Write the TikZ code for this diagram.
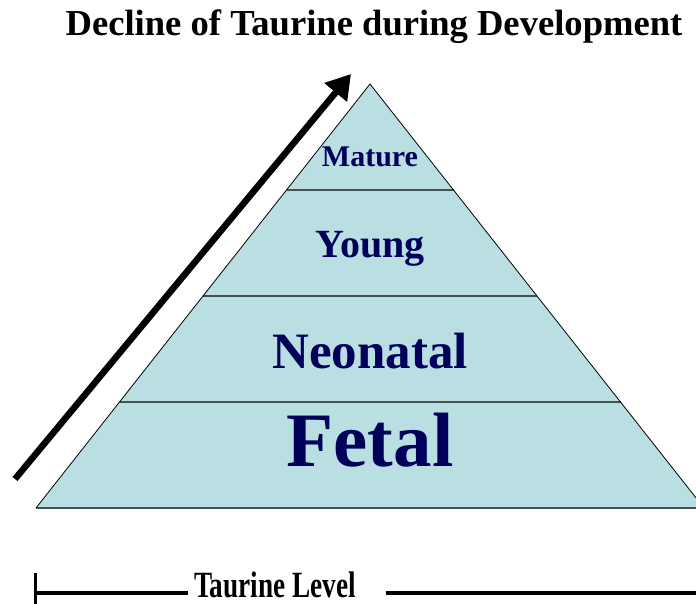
\documentclass[tikz,border=0pt]{standalone}
\usepackage{fontspec}
\setmainfont{Liberation Serif}
\usepackage{graphicx}
\usetikzlibrary{arrows.meta,calc}
\definecolor{pyrfill}{RGB}{185,223,227}
\definecolor{pyrtext}{RGB}{0,0,90}
\definecolor{bandline}{RGB}{70,80,80}

\begin{document}
\begin{tikzpicture}[x=1pt,y=-1pt,
        band/.style = {draw = bandline, line width = 2pt},
        layertext/.style = {anchor = base, text = pyrtext, inner sep = 0pt},
        rise/.style = {line width = 6.5pt, -{Triangle[length=24pt,width=28pt]}},
        level/.style = {line width = 4pt}]
    \useasboundingbox (0,0) rectangle (696,604);
    \clip (0,0) rectangle (696,604);
    \node[anchor=base, font=\bfseries\fontsize{36.6}{37}\selectfont] (title)
        at (374,36) {Decline of Taurine during Development};
    % the pyramid
    \coordinate (apex) at (370,84);
    \coordinate (baseL) at (36,508);
    \coordinate (baseR) at (704,508);
    \fill[pyrfill] (apex) -- (baseL) -- (baseR) -- cycle;
    \foreach \yy [evaluate=\yy as \ff using (\yy-84)/424] in {190,296,402,508}
        \draw[band] ($(apex)!\ff!(baseL)$) -- ($(apex)!\ff!(baseR)$);
    \draw[line width=0.8pt] (baseL) -- (apex) -- (baseR);
    \foreach \name/\txt/\yy/\sz in {mature/Mature/167/30, young/Young/257/40,
            neonatal/Neonatal/368/51, fetal/Fetal/466/77}
        \node[layertext, font=\bfseries\fontsize{\sz}{\sz}\selectfont] (\name)
            at (370,\yy) {\txt};
    % rising arrow
    \coordinate (risetail) at (15,479);
    \coordinate (risetip) at (351,74);
    \draw[rise] (risetail) -- (risetip);
    % taurine level axis
    \coordinate (levelstart) at (34,593);
    \coordinate (levelend) at (720,593);
    \node[anchor=base, inner xsep=6pt, inner ysep=0pt, font=\bfseries] (levellabel)
        at (275,597) {\scalebox{0.735}[1]{\fontsize{37}{37}\selectfont Taurine Level}};
    \draw[level, {Bar[width=40pt,line width=2.5pt]}-] (levelstart)
        -- (levelstart -| levellabel.west);
    \draw[level, shorten <=24pt] (levelstart -| levellabel.east) -- (levelend);
\end{tikzpicture}
\end{document}
